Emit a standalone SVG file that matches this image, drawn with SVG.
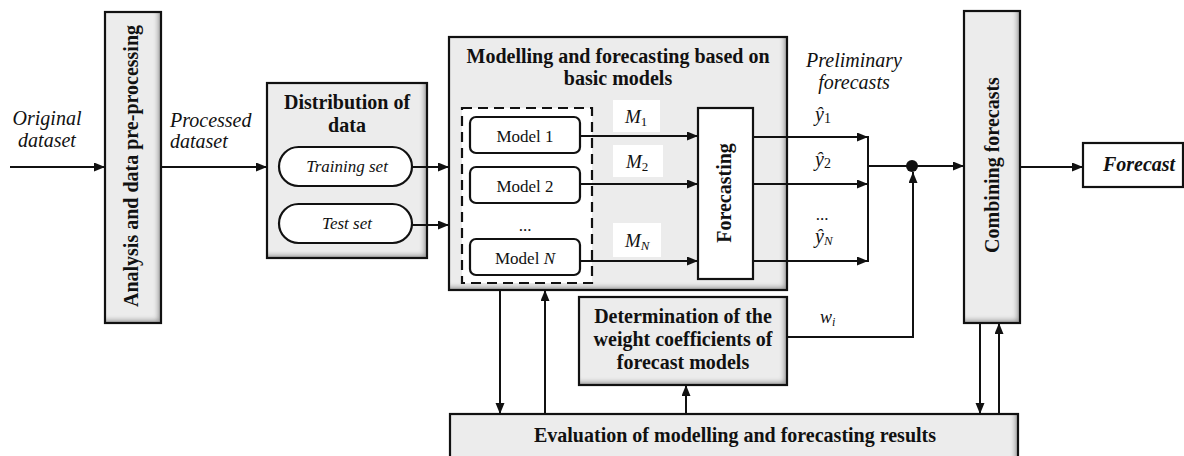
<svg xmlns="http://www.w3.org/2000/svg" width="1184" height="456" viewBox="0 0 1184 456">
<style>
  text{font-family:'Liberation Serif','Tinos','DejaVu Serif',serif;fill:#111}
  .b{font-weight:bold;font-size:20px}
  .i{font-style:italic;font-size:20px}
  .r{font-size:17px}
  .gfill{fill:#ececec;filter:url(#ish)}
  .edge{fill:none;stroke:#111;stroke-width:2.2}
  .wbox{fill:#fff;stroke:#111;stroke-width:2.2}
  .ln{fill:none;stroke:#111;stroke-width:2}
  .arr{fill:none;stroke:#111;stroke-width:2;marker-end:url(#ah)}
</style>
<defs>
  <filter id="ish" x="-20%" y="-20%" width="140%" height="140%">
    <feFlood flood-color="#000" flood-opacity="0.65" result="f"/>
    <feComposite in="f" in2="SourceAlpha" operator="out" result="outside"/>
    <feGaussianBlur in="outside" stdDeviation="2.5" result="bl"/>
    <feOffset in="bl" dx="-3" dy="-3" result="o"/>
    <feComposite in="o" in2="SourceAlpha" operator="in" result="inner"/>
    <feMerge><feMergeNode in="SourceGraphic"/><feMergeNode in="inner"/></feMerge>
  </filter>
  <marker id="ah" markerUnits="userSpaceOnUse" markerWidth="12" markerHeight="10" refX="11" refY="4.5" orient="auto">
    <path d="M0,0 L11,4.5 L0,9 z" fill="#111"/>
  </marker>
</defs>

<g font-family="Liberation Serif, serif">
<g id="input-label">
  <text class="i" x="47" y="125" text-anchor="middle">Original</text>
  <text class="i" x="47" y="147" text-anchor="middle">dataset</text>
</g>

<g id="analysis">
  <rect class="gfill" x="105" y="12" width="56" height="311"/>
  <rect class="edge" x="105" y="12" width="56" height="311"/>
  <text class="b" transform="translate(138,166) rotate(-90)" text-anchor="middle">Analysis and data pre-processing</text>
</g>

<g id="processed-label">
  <text class="i" x="170" y="127">Processed</text>
  <text class="i" x="170" y="148">dataset</text>
</g>

<g id="distribution">
  <rect class="gfill" x="267" y="83" width="160" height="175"/>
  <rect class="edge" x="267" y="83" width="160" height="175"/>
  <text class="b" x="347" y="109" text-anchor="middle">Distribution of</text>
  <text class="b" x="347" y="132" text-anchor="middle">data</text>
  <rect class="wbox" x="279" y="147" width="133" height="39" rx="19.5"/>
  <text x="347" y="172" text-anchor="middle" font-size="17" font-style="italic">Training set</text>
  <rect class="wbox" x="279" y="204" width="133" height="39" rx="19.5"/>
  <text x="347" y="229" text-anchor="middle" font-size="17" font-style="italic">Test set</text>
</g>

<g id="modelling">
  <rect class="gfill" x="449" y="37" width="338" height="253"/>
  <rect class="edge" x="449" y="37" width="338" height="253"/>
  <text class="b" x="618" y="63" text-anchor="middle">Modelling and forecasting based on</text>
  <text class="b" x="618" y="85" text-anchor="middle">basic models</text>
  <rect x="462" y="108" width="130" height="175" fill="#fff" stroke="#111" stroke-width="2.2" stroke-dasharray="10,6"/>
  <rect class="wbox" x="470" y="117" width="110" height="36" rx="6"/>
  <text class="r" x="525" y="142" text-anchor="middle">Model 1</text>
  <rect class="wbox" x="470" y="167" width="110" height="36" rx="6"/>
  <text class="r" x="525" y="192" text-anchor="middle">Model 2</text>
  <text class="r" x="525" y="231" text-anchor="middle">...</text>
  <rect class="wbox" x="470" y="239" width="110" height="36" rx="6"/>
  <text class="r" x="525" y="264" text-anchor="middle">Model <tspan font-style="italic">N</tspan></text>
  <rect x="613" y="100" width="47" height="32" fill="#fff"/>
  <text x="625" y="123" font-size="19"><tspan font-style="italic">M</tspan><tspan font-size="13" dy="3">1</tspan></text>
  <rect x="613" y="145" width="50" height="32" fill="#fff"/>
  <text x="626" y="168" font-size="19"><tspan font-style="italic">M</tspan><tspan font-size="13" dy="3">2</tspan></text>
  <rect x="613" y="223" width="48" height="34" fill="#fff"/>
  <text x="625" y="247" font-size="19"><tspan font-style="italic">M</tspan><tspan font-size="13" font-style="italic" dy="3">N</tspan></text>
  <rect class="wbox" x="698" y="108" width="55" height="171"/>
  <text class="b" transform="translate(731,193) rotate(-90)" text-anchor="middle">Forecasting</text>
</g>

<g id="preliminary-label">
  <text class="i" x="854" y="67" text-anchor="middle">Preliminary</text>
  <text class="i" x="854" y="89" text-anchor="middle">forecasts</text>
  <text x="815" y="121" font-size="20"><tspan font-style="italic">ŷ</tspan><tspan font-size="14" dy="2">1</tspan></text>
  <text x="815" y="166" font-size="20"><tspan font-style="italic">ŷ</tspan><tspan font-size="14" dy="2">2</tspan></text>
  <text x="822" y="220" font-size="17" text-anchor="middle">...</text>
  <text x="815" y="243" font-size="20"><tspan font-style="italic">ŷ</tspan><tspan font-size="13" font-style="italic" dy="2">N</tspan></text>
</g>

<g id="determination">
  <rect class="gfill" x="579" y="297" width="208" height="88"/>
  <rect class="edge" x="579" y="297" width="208" height="88"/>
  <text class="b" x="683" y="323" text-anchor="middle">Determination of the</text>
  <text class="b" x="683" y="346" text-anchor="middle">weight coefficients of</text>
  <text class="b" x="683" y="369" text-anchor="middle">forecast models</text>
</g>

<g id="weight-label">
  <text x="820" y="323" font-size="18"><tspan font-style="italic">w</tspan><tspan font-size="12" font-style="italic" dy="3">i</tspan></text>
</g>

<g id="combining">
  <rect class="gfill" x="964" y="11" width="56" height="312"/>
  <rect class="edge" x="964" y="11" width="56" height="312"/>
  <text class="b" transform="translate(999,165) rotate(-90)" text-anchor="middle">Combining forecasts</text>
</g>

<g id="forecast">
  <rect class="wbox" x="1083" y="143" width="100" height="44"/>
  <text class="b" x="1139" y="171" text-anchor="middle" font-style="italic">Forecast</text>
</g>

<g id="evaluation">
  <rect class="gfill" x="450" y="414" width="568" height="60"/>
  <rect class="edge" x="450" y="414" width="568" height="60"/>
  <text class="b" x="735" y="442" text-anchor="middle">Evaluation of modelling and forecasting results</text>
</g>
</g>

<g id="connectors">
  <line class="arr" x1="10" y1="167" x2="105" y2="167"/>
  <line class="arr" x1="161" y1="167" x2="267" y2="167"/>
  <line class="arr" x1="412" y1="167" x2="449" y2="167"/>
  <line class="arr" x1="412" y1="225" x2="449" y2="225"/>
  <line class="arr" x1="580" y1="136" x2="698" y2="136"/>
  <line class="arr" x1="580" y1="184" x2="698" y2="184"/>
  <line class="arr" x1="580" y1="261" x2="698" y2="261"/>
  <line class="arr" x1="753" y1="137" x2="868" y2="137"/>
  <line class="arr" x1="753" y1="184" x2="868" y2="184"/>
  <line class="arr" x1="753" y1="261" x2="868" y2="261"/>
  <line class="ln" x1="868" y1="136" x2="868" y2="262"/>
  <line class="arr" x1="868" y1="166" x2="964" y2="166"/>
  <circle cx="912" cy="166" r="6" fill="#111"/>
  <polyline class="arr" points="787,337 913,337 913,172"/>
  <line class="arr" x1="1020" y1="167" x2="1083" y2="167"/>
  <line class="arr" x1="500" y1="290" x2="500" y2="414"/>
  <line class="arr" x1="545" y1="414" x2="545" y2="290"/>
  <line class="arr" x1="686" y1="414" x2="686" y2="385"/>
  <line class="arr" x1="980" y1="323" x2="980" y2="414"/>
  <line class="arr" x1="999" y1="414" x2="999" y2="323"/>
</g>
</svg>
